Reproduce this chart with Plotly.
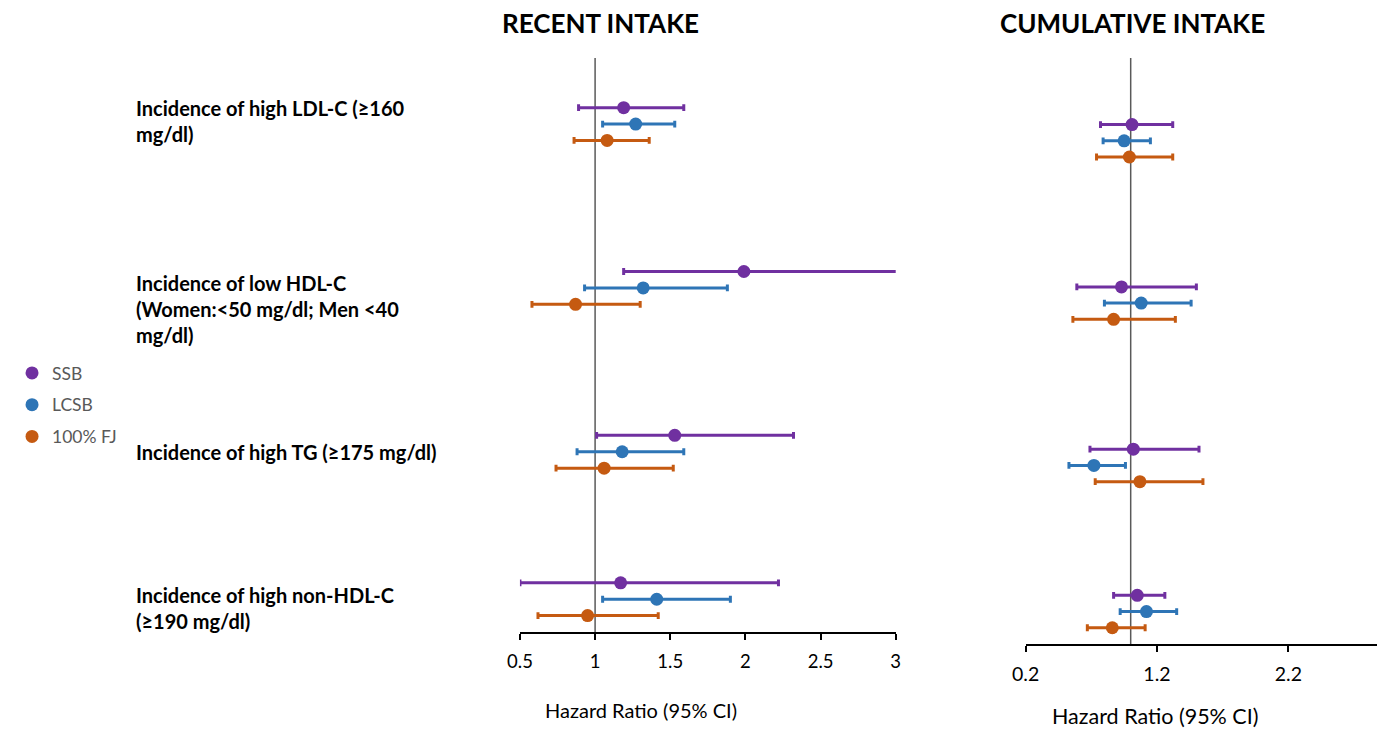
import plotly.graph_objects as go

# Outcomes (top to bottom) and exposure series
outcomes = [
    "Incidence of high LDL-C (≥160<br>mg/dl)",
    "Incidence of low HDL-C<br>(Women:<50 mg/dl; Men <40<br>mg/dl)",
    "Incidence of high TG (≥175 mg/dl)",
    "Incidence of high non-HDL-C<br>(≥190 mg/dl)",
]
series = ["SSB", "LCSB", "100% FJ"]
colors = ["#7030A0", "#2E75B6", "#C55A11"]

# Row positions on the vertical axis for each outcome (SSB, LCSB, 100% FJ)
row_pos = {
    "SSB":     [32, 22, 12, 3],
    "LCSB":    [31, 21, 11, 2],
    "100% FJ": [30, 20, 10, 1],
}

# Recent intake: hazard ratio, lower and upper 95% CI
recent_hr = {
    "SSB":     [1.19, 1.99, 1.53, 1.17],
    "LCSB":    [1.27, 1.32, 1.18, 1.41],
    "100% FJ": [1.08, 0.87, 1.06, 0.95],
}
recent_lo = {
    "SSB":     [0.89, 1.19, 1.01, 0.50],
    "LCSB":    [1.05, 0.93, 0.88, 1.05],
    "100% FJ": [0.86, 0.58, 0.74, 0.62],
}
recent_hi = {
    "SSB":     [1.59, 3.05, 2.32, 2.22],
    "LCSB":    [1.53, 1.88, 1.59, 1.90],
    "100% FJ": [1.36, 1.30, 1.52, 1.42],
}

# Cumulative intake: hazard ratio, lower and upper 95% CI
cum_hr = {
    "SSB":     [1.01, 0.93, 1.02, 1.05],
    "LCSB":    [0.95, 1.08, 0.72, 1.12],
    "100% FJ": [0.99, 0.87, 1.07, 0.86],
}
cum_lo = {
    "SSB":     [0.77, 0.59, 0.69, 0.87],
    "LCSB":    [0.79, 0.80, 0.53, 0.92],
    "100% FJ": [0.74, 0.56, 0.73, 0.67],
}
cum_hi = {
    "SSB":     [1.32, 1.50, 1.52, 1.26],
    "LCSB":    [1.15, 1.46, 0.96, 1.35],
    "100% FJ": [1.32, 1.34, 1.55, 1.11],
}

recent_ticks = [0.5, 1, 1.5, 2, 2.5, 3]
cum_ticks = [0.2, 1.2, 2.2]

FONT = "Lato, 'Open Sans', sans-serif"
W, H = 1382, 732

fig = go.Figure()


def add_panel(hr, lo, hi, xa, ya, show_legend):
    for s, c in zip(series, colors):
        fig.add_trace(go.Scatter(
            x=hr[s], y=row_pos[s], mode="markers", name=s,
            xaxis=xa, yaxis=ya, showlegend=show_legend, legendgroup=s,
            marker=dict(color=c, size=13, line=dict(width=0)),
            error_x=dict(
                type="data", symmetric=False,
                array=[h - m for h, m in zip(hi[s], hr[s])],
                arrayminus=[m - l for m, l in zip(hr[s], lo[s])],
                color=c, thickness=3, width=3.4,
            ),
        ))


add_panel(recent_hr, recent_lo, recent_hi, "x", "y", True)
add_panel(cum_hr, cum_lo, cum_hi, "x2", "y2", False)


def axis_style(size):
    return dict(
        showgrid=False, zeroline=False, showline=True, linecolor="black",
        linewidth=1.5, ticks="outside", ticklen=6, tickwidth=1.5,
        tickcolor="black", ticklabelstandoff=6,
        tickfont=dict(family=FONT, size=size, color="black"),
    )


fig.update_layout(
    width=W, height=H,
    margin=dict(l=0, r=0, t=0, b=0),
    paper_bgcolor="white", plot_bgcolor="white",
    font=dict(family=FONT),
    xaxis=dict(domain=[513 / W, 894 / W], range=[0.5, 3.0],
               tickvals=recent_ticks, ticktext=[f"{t:g}" for t in recent_ticks],
               anchor="y", **axis_style(18.5)),
    yaxis=dict(domain=[(H - 632) / H, (H - 58) / H], range=[0, 35.03],
               visible=False, anchor="x"),
    xaxis2=dict(domain=[1025.7 / W, 1.0], range=[0.2, 2.875],
                tickvals=cum_ticks, ticktext=[f"{t:.1f}" for t in cum_ticks],
                anchor="y2", **axis_style(19.5)),
    yaxis2=dict(domain=[(H - 644) / H, (H - 58) / H], range=[0, 36.1],
                visible=False, anchor="x2"),
    legend=dict(
        x=-2 / W, y=(H - 355) / H, xanchor="left", yanchor="top",
        font=dict(family=FONT, size=17.5, color="#595959"),
        itemwidth=30, tracegroupgap=6, bgcolor="rgba(0,0,0,0)",
        itemclick=False,
    ),
)

# Reference line at HR = 1 in each panel
for xr, yr in (("x", "y"), ("x2", "y2")):
    fig.add_shape(type="line", xref=xr, yref=f"{yr} domain",
                  x0=1, x1=1, y0=0, y1=1,
                  line=dict(color="#595959", width=1.5), layer="below")

# Panel titles
for text, xc in (("RECENT INTAKE", 595), ("CUMULATIVE INTAKE", 1134)):
    fig.add_annotation(text=f"<b>{text}</b>", xref="paper", yref="paper",
                       x=xc / W, y=(H - 23) / H, xanchor="center",
                       yanchor="middle", showarrow=False,
                       font=dict(family=FONT, size=26, color="black"))

# Axis titles
for xc, yc, size in ((636, 710, 20), (1157, 716, 21.5)):
    fig.add_annotation(text="Hazard Ratio (95% CI)", xref="paper", yref="paper",
                       x=xc / W, y=(H - yc) / H, xanchor="center",
                       yanchor="middle", showarrow=False, borderpad=0,
                       font=dict(family=FONT, size=size, color="black"))

# Outcome labels
label_centers = [121, 309, 452, 608]
for text, yc in zip(outcomes, label_centers):
    fig.add_annotation(text=f"<b>{text}</b>", xref="paper", yref="paper",
                       x=122 / W, y=(H - yc) / H, xanchor="left",
                       yanchor="middle", align="left", showarrow=False,
                       font=dict(family=FONT, size=20, color="black"))

fig.write_html("out.html")
